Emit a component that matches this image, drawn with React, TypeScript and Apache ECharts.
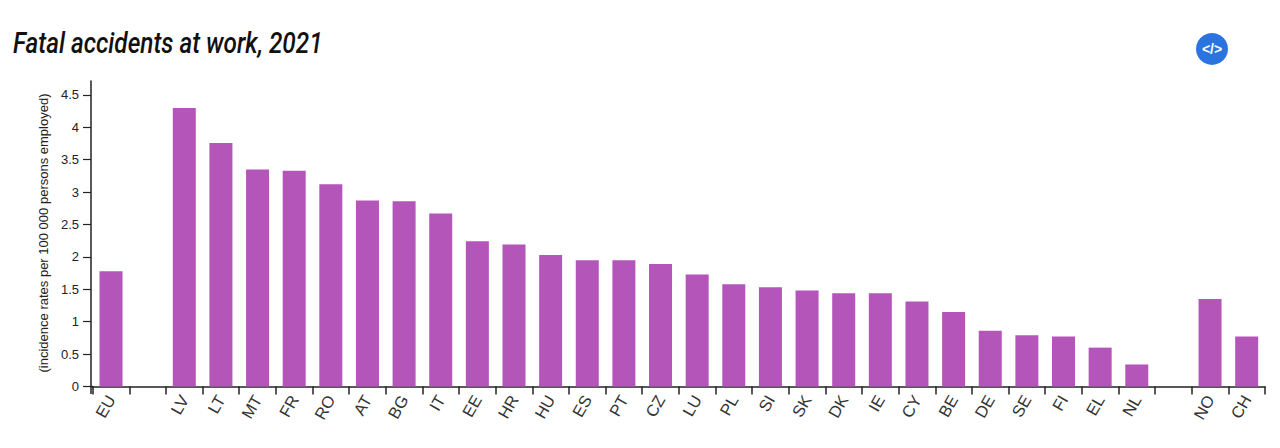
import React, { useEffect, useRef } from "react";
import * as echarts from "echarts";

const categories = ["EU", "", "LV", "LT", "MT", "FR", "RO", "AT", "BG", "IT", "EE", "HR", "HU", "ES", "PT", "CZ", "LU", "PL", "SI", "SK", "DK", "IE", "CY", "BE", "DE", "SE", "FI", "EL", "NL", "", "NO", "CH"];
const rates = [1.78, null, 4.3, 3.76, 3.35, 3.33, 3.12, 2.87, 2.86, 2.67, 2.24, 2.19, 2.03, 1.95, 1.95, 1.89, 1.73, 1.58, 1.53, 1.48, 1.44, 1.44, 1.31, 1.15, 0.86, 0.79, 0.77, 0.6, 0.34, null, 1.35, 0.77];
const yTicks = [0, 0.5, 1, 1.5, 2, 2.5, 3, 3.5, 4, 4.5];
const titleText = "Fatal accidents at work, 2021";
const yAxisName = "(incidence rates per 100 000 persons employed)";

export default function App() {
  const ref = useRef<HTMLDivElement>(null);
  useEffect(() => {
    document.body.style.margin = "0";
    const chart = echarts.init(ref.current!, null, { renderer: "svg" });
    chart.setOption({
      animation: false,
      backgroundColor: "#fff",
      textStyle: { fontFamily: "Liberation Sans" },
      grid: { left: 92.7, right: 15, top: 81, bottom: 61.5, containLabel: false },
      graphic: [
        {
          type: "text",
          x: 13,
          y: 29,
          scaleX: 0.84,
          style: { text: titleText, font: "italic 500 29px Roboto", fill: "#111" },
        },
        {
          type: "text",
          x: 43,
          y: 233,
          rotation: Math.PI / 2,
          style: {
            text: yAxisName,
            font: "13px 'Liberation Sans'",
            fill: "#222",
            align: "center",
            verticalAlign: "middle",
          },
        },
        { type: "circle", shape: { cx: 1212, cy: 49, r: 16 }, style: { fill: "#2b74e0" } },
        {
          type: "text",
          x: 1212,
          y: 49,
          style: {
            text: "</>",
            font: "bold 14px 'Liberation Sans'",
            fill: "#fff",
            align: "center",
            verticalAlign: "middle",
          },
        },
        { type: "line", shape: { x1: 91, y1: 386.5, x2: 93, y2: 386.5 }, style: { stroke: "#222", lineWidth: 1.5 } },
        { type: "line", shape: { x1: 91, y1: 386.5, x2: 91, y2: 394 }, style: { stroke: "#222", lineWidth: 1.5 } },
      ],
      xAxis: {
        type: "category",
        data: categories,
        axisLine: { lineStyle: { color: "#222", width: 1.5 } },
        axisTick: { show: true, length: 8, interval: 0, alignWithLabel: false, lineStyle: { color: "#222", width: 1.5 } },
        axisLabel: { interval: 0, rotate: 60, fontSize: 16.5, color: "#333", margin: 10, padding: [0, 0, 10, 0], fontFamily: "Liberation Sans" },
      },
      yAxis: {
        type: "value",
        min: 0,
        max: 4.715,
        offset: 1.7,
        splitLine: { show: false },
        axisLine: { show: true, lineStyle: { color: "#222", width: 1.5 } },
        axisTick: { show: true, length: 8, customValues: yTicks, lineStyle: { color: "#222", width: 1.2 } },
        axisLabel: { customValues: yTicks, fontSize: 13, color: "#222", margin: 12, fontFamily: "Liberation Sans", formatter: (v: number) => String(v) },
      },
      series: [
        {
          type: "bar",
          data: rates,
          barWidth: 23,
          itemStyle: { color: "#b455b9" },
        },
      ],
    });
    return () => chart.dispose();
  }, []);
  return <div ref={ref} style={{ width: 1280, height: 448 }} />;
}
